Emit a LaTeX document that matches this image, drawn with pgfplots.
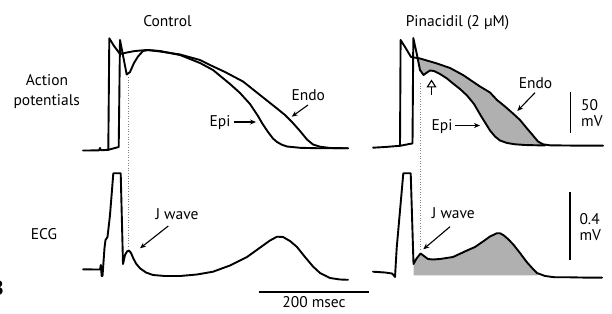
\documentclass[border=0pt]{standalone}
\usepackage{fontspec}
\setmainfont{PT Sans}
\usepackage{pgfplots}
\pgfplotsset{compat=1.18}
\usepgfplotslibrary{fillbetween}
\usetikzlibrary{arrows.meta}
\definecolor{apgray}{RGB}{176,176,176}
\newcommand\lab{\fontsize{15.5bp}{18bp}\selectfont}
\tikzset{
  trace/.style={black, line width=1.9bp, line join=round, line cap=round},
  lbl/.style={font=\lab, inner sep=0pt},
  arr/.style={-{Stealth[length=6bp,width=5bp]}, line width=1.1bp}}
\begin{document}
\begin{tikzpicture}
\begin{axis}[at={(0,0)}, anchor=south west, scale only axis,
  width=612bp, height=314bp, xmin=0, xmax=612, ymin=0, ymax=314,
  y dir=reverse, hide axis, clip=false]

% ---------------- Control action potentials ----------------
\addplot[trace] coordinates {
(83,150.5) (99,150.4) (100,148) (101,150.3) (108.3,149.8) (109.3,38.3) (114,46) (120,54)
(127,52.5) (135,51) (147,50) (160,51.5) (180,54.5) (200,60) (210,65) (225,72)
(243,81.5) (260,95) (277,108.5) (285,115) (292,122) (300,131) (307,139.5)
(313,144.5) (320,146.7) (330,148) (348,148.3)};
\addplot[trace] coordinates {
(108.3,149.8) (118.7,147) (120,40) (126.7,74.5) (130,72) (134,63) (138,56.5)
(143,51) (148,50) (160,51) (180,55) (200,63) (213,70) (230,84) (240,93)
(250,104) (258,116) (262,123) (268,132) (273,138.5) (277,142) (282,144.8)
(287,146.5) (300,147.8) (320,148.3) (348,148.3)};

% ---------------- Pinacidil action potentials ----------------
\addplot[trace, name path=pendo] coordinates {
(373,147.7) (385,147) (395,146.2) (400,145.8) (400.6,40) (405,47) (411,57)
(420,58.5) (437,63.5) (450,68) (463,75) (480,86.5) (490,92.5) (497,100)
(505,106.5) (513,113.5) (520,120) (527,128.5) (533,135.5) (538,141.5)
(543,144.3) (550,145.3) (565,145.5) (585,145.7) (603,145.7)};
\addplot[trace, name path=pepi] coordinates {
(400,145.8) (412.5,143.4) (413.3,38) (417,55) (420,70) (423.5,75) (427,72.5)
(430,70.5) (434,71) (440,74) (447,78.5) (453,83.5) (460,89) (467,95.5)
(474,104) (481,116) (486,124) (490,130.5) (495,136.5) (500,140.5) (507,143)
(515,144.3) (525,145) (545,145.5)};
\addplot[fill=apgray, draw=none] fill between[of=pendo and pepi, soft clip={domain=417.6:546}];

% ---------------- Control ECG ----------------
\addplot[trace] coordinates {
(83,269.3) (95,269.5) (100,269.5) (100.8,265) (101.7,276) (102.5,276)
(104.5,248) (105.5,240) (107.5,237) (110,215) (112,190) (113.3,173.3)
(120.7,173.3) (123,264) (125,255) (127,251.5) (129,250.5) (131,253)
(133.3,258.3) (136,263.5) (140,268.3) (146,272.5) (153,275) (165,276)
(180,276) (197,274.5) (213,271.7) (230,265.5) (247,257) (263,245.5)
(270,240.5) (277,236.7) (283,237) (290,241) (297,247) (305,257) (313,266.5)
(320,273) (330,278) (340,279.5) (348,279.8)};

% ---------------- Pinacidil ECG ----------------
\addplot[trace, name path=pecg] coordinates {
(373,271.7) (385,272.5) (392,273.5) (393.5,275) (395,277) (396.7,248)
(403.3,173.3) (410.7,173.3) (413.5,264) (416.7,258.3) (420.5,253.5)
(423.3,255.5) (428,259) (433,259.5) (440,259) (453,257) (467,250.5)
(475,247) (483,241.5) (490,236.5) (496.7,233.3) (500,233.3) (503.3,235)
(508,239) (513.3,244.5) (520,253) (526.7,262) (533,269) (537,273) (545,276)
(555,277.3) (570,277.3) (585,277.6) (602,277.7)};
\addplot[draw=none, name path=pbase] coordinates {(405,275.5) (560,275.5)};
\addplot[fill=apgray, draw=none] fill between[of=pecg and pbase, soft clip={domain=413.6:538}];

% ---------------- dotted guides ----------------
\addplot[gray, line width=0.6bp, dotted] coordinates {(128.5,77) (128.5,246)};
\addplot[gray, line width=0.6bp, dotted] coordinates {(420.7,83) (420.7,250)};

% ---------------- scale bars ----------------
\addplot[black, line width=1.5bp] coordinates {(570.7,91.7) (570.7,133.3)};
\addplot[black, line width=1.5bp] coordinates {(570,191.7) (570,260)};
\addplot[black, line width=1.3bp] coordinates {(258.5,292) (368.5,292)};

% ---------------- arrows ----------------
\draw[arr] (axis cs:308,105) -- (axis cs:291.7,116.7);
\draw[arr] (axis cs:233.5,122) -- (axis cs:256,122);
\draw[arr] (axis cs:535,92.7) -- (axis cs:517.3,111);
\draw[arr] (axis cs:455,125.5) -- (axis cs:480,125.5);
\draw[arr] (axis cs:168.3,226) -- (axis cs:140,248.3);
\draw[arr] (axis cs:450,226.7) -- (axis cs:423.3,249.3);
\draw[-{Triangle[open,length=8bp,width=10bp,line width=1.1bp]}, line width=1.3bp] (axis cs:431.5,95) -- (axis cs:431.5,79.5);

% ---------------- texts ----------------
\node[lbl, anchor=base] at (axis cs:167.5,26.7) {Control};
\node[lbl, anchor=base] at (axis cs:457.5,26.7) {Pinacidil (2 µM)};
\node[lbl, anchor=base] at (axis cs:47,86) {Action};
\node[lbl, anchor=base] at (axis cs:46.7,106) {potentials};
\node[lbl, anchor=base] at (axis cs:44,240) {ECG};
\node[lbl, anchor=base] at (axis cs:308.3,101) {Endo};
\node[lbl, anchor=base] at (axis cs:220,126.7) {Epi};
\node[lbl, anchor=base] at (axis cs:535.5,89) {Endo};
\node[lbl, anchor=base] at (axis cs:442,131) {Epi};
\node[lbl, anchor=base] at (axis cs:177,219.3) {J wave};
\node[lbl, anchor=base] at (axis cs:453.3,218.3) {J wave};
\node[lbl, anchor=base west] at (axis cs:581,111) {50};
\node[lbl, anchor=base west] at (axis cs:581,126.7) {mV};
\node[lbl, anchor=base west] at (axis cs:579.3,225) {0.4};
\node[lbl, anchor=base west] at (axis cs:579.3,241) {mV};
\node[lbl, anchor=base] at (axis cs:314,307.3) {200 msec};
\node[font=\fontsize{21bp}{24bp}\selectfont\bfseries, inner sep=0pt, anchor=base east] at (axis cs:3.8,295) {B};
\end{axis}
\pgfresetboundingbox
\path[use as bounding box] (0,0) rectangle (612bp,314bp);
\end{tikzpicture}
\end{document}
